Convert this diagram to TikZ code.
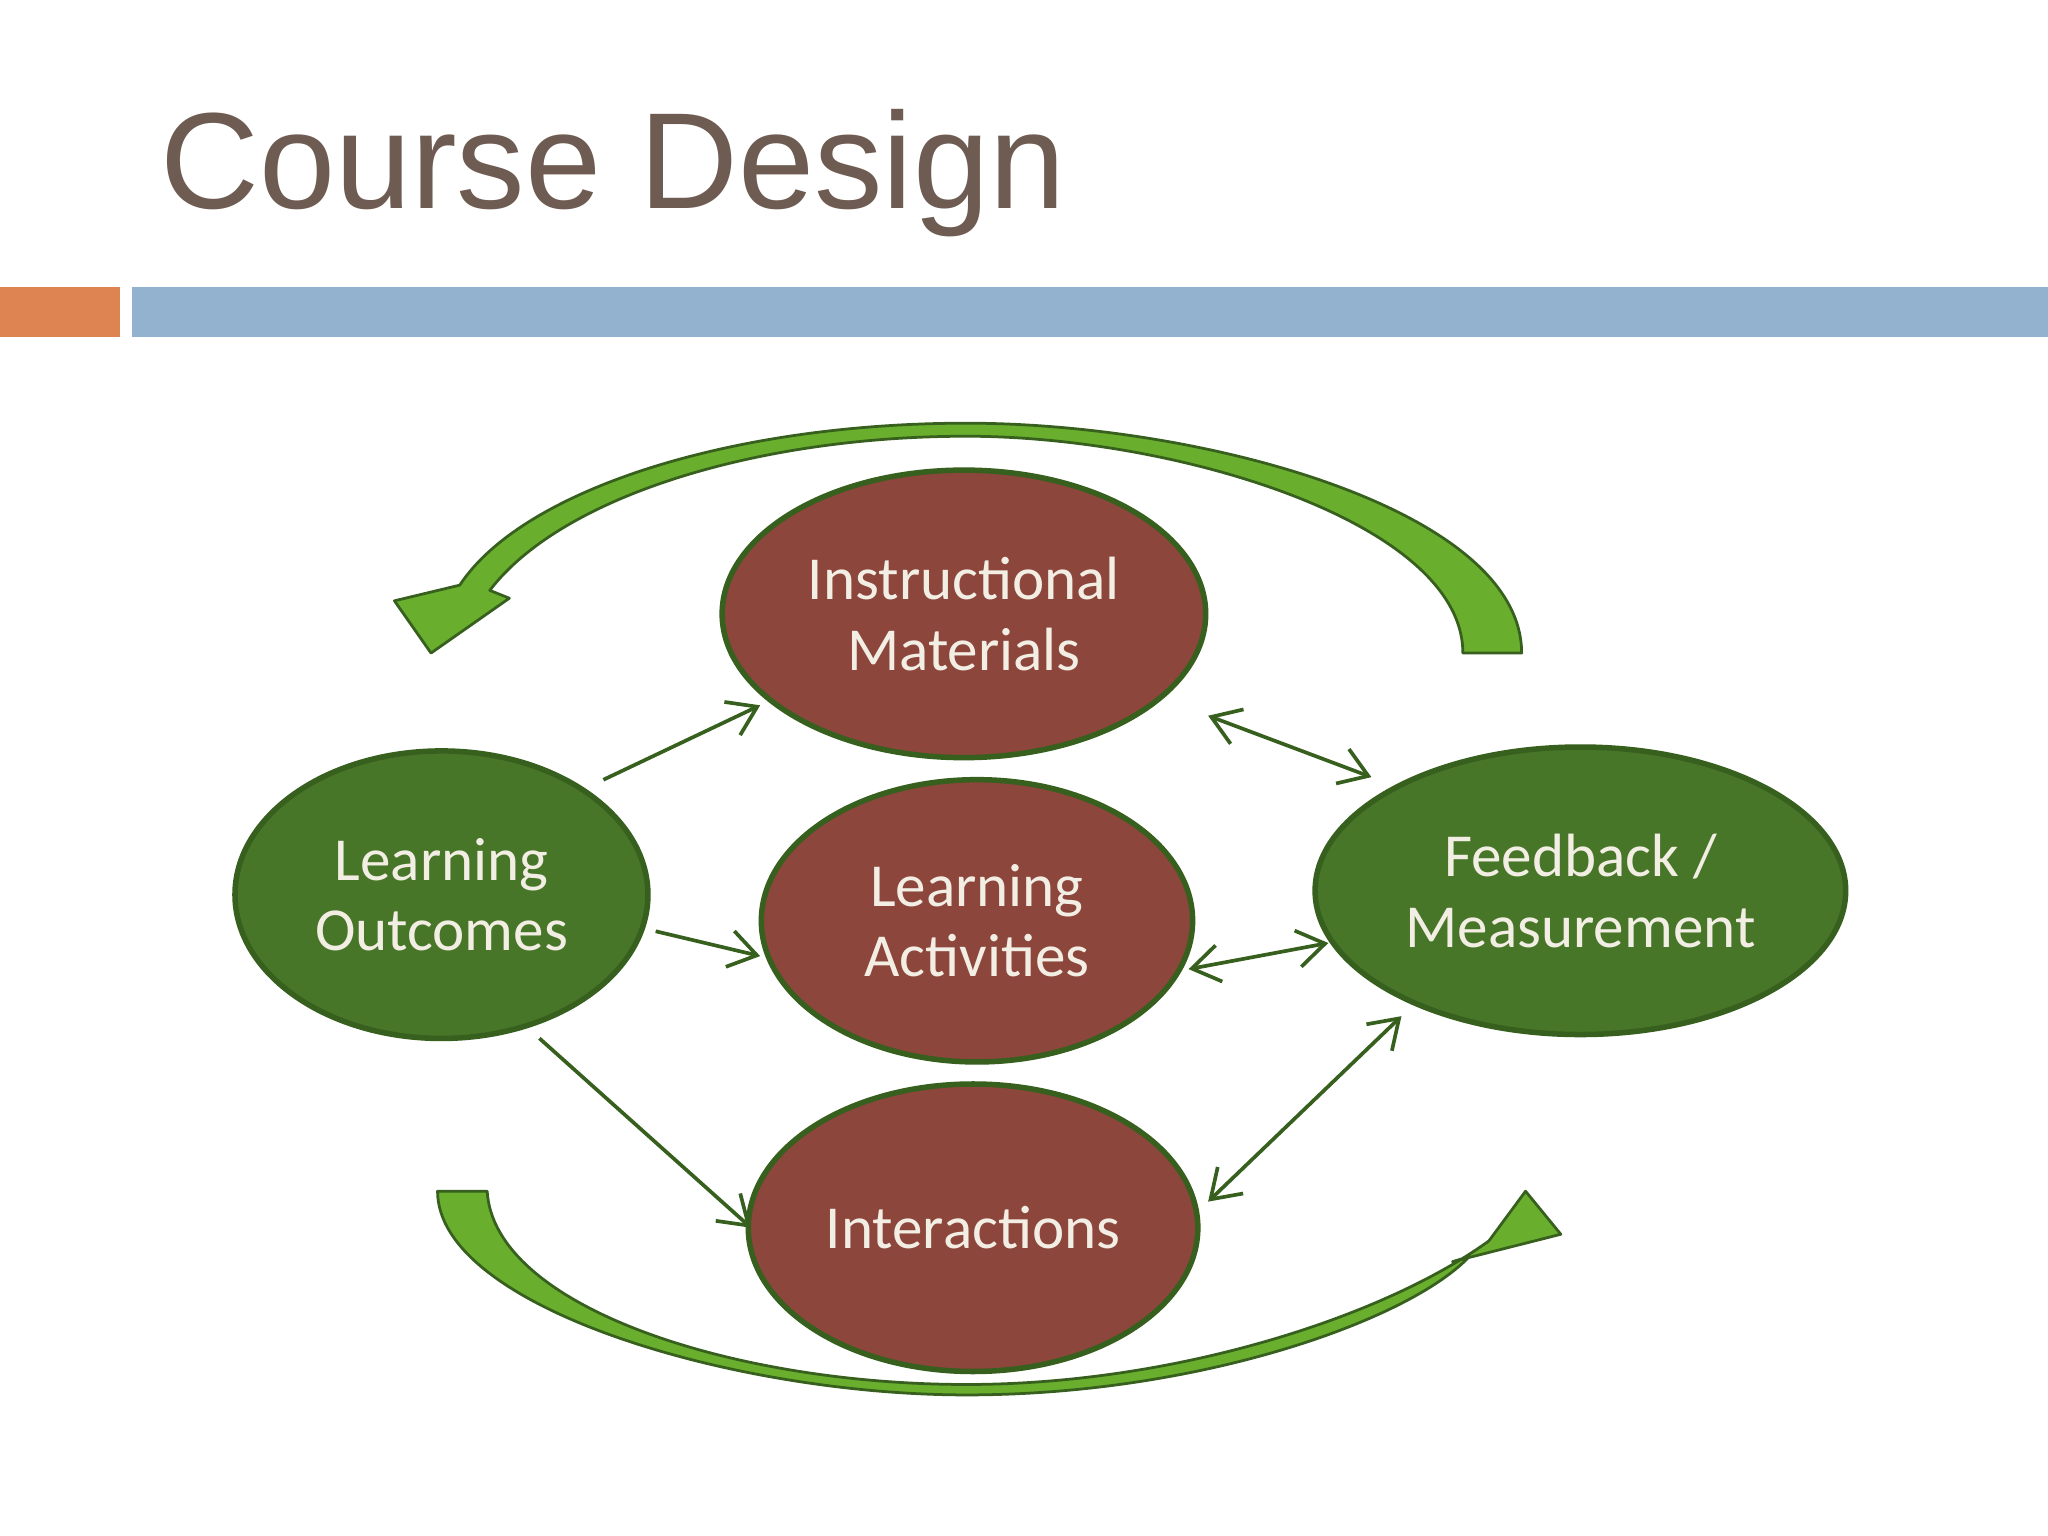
\documentclass[tikz,border=0pt]{standalone}
\usepackage{fontspec}
\setmainfont{Carlito}
\newfontfamily\titlefont{Liberation Sans}
\usetikzlibrary{shapes.geometric,arrows.meta}
\definecolor{titlec}{RGB}{110,92,82}
\definecolor{orangebar}{RGB}{221,132,82}
\definecolor{bluebar}{RGB}{146,178,208}
\definecolor{redfill}{RGB}{140,70,60}
\definecolor{greenfill}{RGB}{72,118,40}
\definecolor{edgegreen}{RGB}{55,95,30}
\definecolor{arrowgreen}{RGB}{105,175,45}
\definecolor{txt}{RGB}{242,238,228}
\tikzset{
 oval/.style={ellipse,draw=edgegreen,line width=1.2pt,text=txt,align=center,
   font=\fontsize{13.3pt}{15.4pt}\selectfont,inner sep=0pt},
 redoval/.style={oval,fill=redfill},
 greenoval/.style={oval,fill=greenfill},
 conn/.style={draw=edgegreen,line width=0.8pt,-{Straight Barb[length=6pt,width=8pt]}},
 dconn/.style={draw=edgegreen,line width=0.8pt,{Straight Barb[length=6pt,width=8pt]}-{Straight Barb[length=6pt,width=8pt]}},
 bigarrow/.style={fill=arrowgreen,draw=edgegreen,line width=0.6pt,line join=round}
}
\begin{document}
\begin{tikzpicture}[x=0.01cm,y=-0.01cm]
\useasboundingbox (0,0) rectangle (1568,1176);
\fill[white] (0,0) rectangle (1568,1176);
\node[anchor=base west,inner sep=0pt,text=titlec,font=\titlefont\fontsize{29.8pt}{32pt}\selectfont] (title) at (122,160) {Course Design};
\fill[orangebar] (0,220) rectangle (92,258);
\fill[bluebar] (101,220) rectangle (1568,258);
% big arrows
\path[bigarrow] (1165,500) .. controls (1165,390) and (920,324) .. (740,324)
  .. controls (560,324) and (400,375) .. (352,448) -- (302,460) -- (330,500) -- (390,458) -- (375,452)
  .. controls (430,380) and (580,334) .. (740,334)
  .. controls (900,334) and (1120,400) .. (1120,500) -- cycle;
\path[bigarrow] (335,912) .. controls (335,1000) and (560,1068) .. (740,1068)
  .. controls (920,1068) and (1080,1010) .. (1125,962) -- (1112,966) -- (1195,945) -- (1168,912) -- (1140,950)
  .. controls (1060,1008) and (900,1060) .. (740,1060)
  .. controls (560,1060) and (378,1000) .. (373,912) -- cycle;
% nodes
\node[redoval,minimum width=3.70cm,minimum height=2.20cm] (im) at (738,470) {Instructional\\Materials};
\node[redoval,minimum width=3.30cm,minimum height=2.16cm] (la) at (748,705) {Learning\\Activities};
\node[redoval,minimum width=3.44cm,minimum height=2.20cm] (in) at (745,940) {Interactions};
\node[greenoval,minimum width=3.16cm,minimum height=2.20cm] (lo) at (338,685) {Learning\\Outcomes};
\node[greenoval,minimum width=4.06cm,minimum height=2.20cm] (fm) at (1210,682) {Feedback /\\Measurement};
% connector endpoints
\coordinate (a1) at (462,597); \coordinate (a2) at (582,540);
\coordinate (b1) at (502,713); \coordinate (b2) at (582,732);
\coordinate (c1) at (413,795); \coordinate (c2) at (575,940);
\coordinate (d1) at (925,548); \coordinate (d2) at (1050,595);
\coordinate (e1) at (910,742); \coordinate (e2) at (1017,722);
\coordinate (f1) at (925,920); \coordinate (f2) at (1073,778);
\draw[conn] (a1) -- (a2);
\draw[conn] (b1) -- (b2);
\draw[conn] (c1) -- (c2);
\draw[dconn] (d1) -- (d2);
\draw[dconn] (e1) -- (e2);
\draw[dconn] (f1) -- (f2);
\end{tikzpicture}
\end{document}
